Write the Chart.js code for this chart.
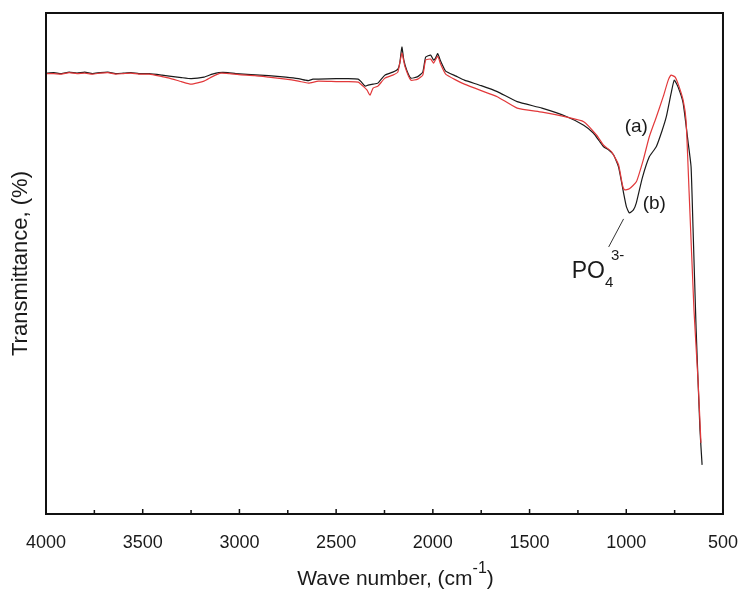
<!DOCTYPE html>
<html>
<head>
<meta charset="utf-8">
<title>FTIR spectra</title>
<script src="https://cdn.jsdelivr.net/npm/chart.js@4.4.1/dist/chart.umd.min.js"></script>
<style>
    html, body { margin: 0; padding: 0; background: #fff; }
    #wrap { width: 748px; height: 589px; }
</style>
</head>
<body>
<div id="wrap"><canvas id="ftir" width="748" height="589"></canvas></div>
<script>
// Wave numbers (cm-1) and transmittance (%)
// (b) black curve
const wnB = [4000, 3960, 3920, 3880, 3840, 3800, 3760, 3720, 3680, 3640, 3600, 3560, 3520, 3466,
    3400, 3363, 3300, 3250, 3183, 3140, 3106, 3060, 3019, 2940, 2849, 2760, 2695, 2660, 2643, 2620,
    2592, 2500, 2440, 2386, 2371, 2350, 2335, 2309, 2284, 2248, 2207, 2181, 2171, 2160, 2150, 2135,
    2114, 2078, 2052, 2037, 2011, 1996, 1986, 1975, 1960, 1934, 1880, 1837, 1750, 1667, 1564, 1436,
    1307, 1220, 1169, 1140, 1117, 1092, 1066, 1040, 1014, 999, 984, 963, 948, 917, 881, 845, 815,
    793, 768, 752, 732, 706, 680, 665, 655, 639, 619, 608];
const tB = [88.0, 88.1, 87.9, 88.2, 88.0, 88.2, 87.9, 88.1, 88.2, 87.9, 88.0, 88.1, 87.9, 87.9,
    87.6, 87.4, 87.1, 86.9, 87.2, 87.8, 88.1, 88.1, 87.9, 87.7, 87.5, 87.2, 86.9, 86.6, 86.5, 86.8,
    86.8, 86.9, 86.9, 86.8, 86.3, 85.4, 85.6, 85.8, 86.0, 87.6, 88.2, 88.8, 90.0, 93.2, 90.6, 88.6,
    87.0, 87.3, 88.2, 91.2, 91.6, 90.6, 91.0, 91.9, 90.4, 88.4, 87.4, 86.6, 85.5, 84.3, 82.3, 81.0,
    79.3, 77.6, 76.0, 74.5, 73.3, 72.7, 71.7, 69.3, 64.1, 61.3, 60.1, 60.7, 62.1, 67.1, 71.3, 73.3, 76.5,
    79.3, 84.0, 86.6, 85.2, 82.0, 74.1, 69.3, 57.3, 37.0, 16.8, 9.8];

// (a) red curve
const wnA = [4000, 3960, 3920, 3880, 3840, 3800, 3760, 3720, 3680, 3640, 3600, 3560, 3520, 3466,
    3400, 3363, 3300, 3250, 3183, 3140, 3096, 3050, 3003, 2920, 2849, 2760, 2695, 2643, 2592, 2500,
    2440, 2386, 2361, 2340, 2325, 2309, 2284, 2248, 2207, 2181, 2160, 2145, 2114, 2078, 2052, 2037,
    2011, 1996, 1975, 1960, 1934, 1880, 1837, 1750, 1667, 1564, 1436, 1307, 1220, 1153, 1117, 1076,
    1040, 1020, 1009, 984, 948, 912, 881, 845, 809, 783, 768, 747, 727, 706, 691, 675, 650, 629, 614];
const tA = [87.9, 87.9, 87.8, 88.1, 87.9, 88.0, 87.8, 88.0, 88.1, 87.8, 87.9, 88.0, 87.8, 87.8,
    87.3, 87.0, 86.3, 85.8, 86.4, 87.3, 88.0, 87.9, 87.7, 87.5, 87.2, 86.8, 86.4, 86.0, 86.4, 86.3,
    86.3, 86.2, 85.4, 84.6, 83.6, 85.0, 85.4, 87.0, 87.6, 88.2, 92.0, 89.4, 86.6, 86.8, 87.6, 90.6,
    90.8, 90.0, 91.4, 89.8, 87.8, 86.6, 85.8, 84.5, 83.3, 81.0, 80.2, 79.2, 78.3, 75.6, 73.6, 72.3,
    69.7, 65.7, 64.7, 64.9, 66.3, 70.7, 75.3, 79.2, 83.3, 86.6, 87.6, 87.2, 85.3, 82.6, 78.6, 64.1, 40.7, 26.7, 14.2];

const xTicks = [4000, 3500, 3000, 2500, 2000, 1500, 1000, 500];

const FONT = 'Arial, "Liberation Sans", sans-serif';

function toPoints(xs, ys) {
    return xs.map((x, i) => ({ x: x, y: ys[i] }));
}

// draws text made of pieces with their own size and vertical shift
function drawRich(ctx, parts, x, y) {
    parts.forEach(p => {
        ctx.font = p.size + 'px ' + FONT;
        ctx.fillText(p.text, x + (p.dx || 0), y + (p.dy || 0));
        if (!p.noAdvance) x += ctx.measureText(p.text).width + (p.dx || 0);
    });
}

function richWidth(ctx, parts) {
    let w = 0;
    parts.forEach(p => {
        ctx.font = p.size + 'px ' + FONT;
        if (!p.noAdvance) w += ctx.measureText(p.text).width + (p.dx || 0);
    });
    return w;
}

const framePlugin = {
    id: 'frame',
    afterDraw(chart) {
        const { ctx, chartArea: a, scales: { x, y } } = chart;
        ctx.save();

        // box round the plot
        ctx.strokeStyle = '#111';
        ctx.lineWidth = 2;
        ctx.strokeRect(a.left, a.top, a.right - a.left, a.bottom - a.top);

        // inward ticks on the bottom axis, minor ones half way
        ctx.lineWidth = 1.5;
        xTicks.forEach((v, i) => {
            const px = x.getPixelForValue(v);
            ctx.beginPath();
            ctx.moveTo(px, a.bottom);
            ctx.lineTo(px, a.bottom - 5);
            ctx.stroke();
            if (i < xTicks.length - 1) {
                const mx = x.getPixelForValue((v + xTicks[i + 1]) / 2);
                ctx.beginPath();
                ctx.moveTo(mx, a.bottom);
                ctx.lineTo(mx, a.bottom - 4);
                ctx.stroke();
            }
        });

        ctx.fillStyle = '#1a1a1a';
        ctx.textAlign = 'left';
        ctx.textBaseline = 'alphabetic';

        // x axis title with superscript
        const title = [
            { text: 'Wave number, (cm', size: 21 },
            { text: '-1', size: 16, dy: -12 },
            { text: ')', size: 21 }
        ];
        const tw = richWidth(ctx, title);
        drawRich(ctx, title, (a.left + a.right) / 2 + 11 - tw / 2, 585);

        // curve labels
        ctx.textAlign = 'center';
        ctx.font = '19px ' + FONT;
        ctx.fillText('(a)', x.getPixelForValue(948), y.getPixelForValue(76.3));
        ctx.fillText('(b)', x.getPixelForValue(855), y.getPixelForValue(60.8));

        // PO4 3- band with its leader line
        ctx.strokeStyle = '#333';
        ctx.lineWidth = 1;
        ctx.beginPath();
        ctx.moveTo(x.getPixelForValue(1014), y.getPixelForValue(58.9));
        ctx.lineTo(x.getPixelForValue(1091), y.getPixelForValue(53.3));
        ctx.stroke();

        ctx.textAlign = 'left';
        drawRich(ctx, [
            { text: 'PO', size: 23 },
            { text: '4', size: 15, dy: 9, noAdvance: true },
            { text: '3-', size: 15, dy: -18, dx: 6 }
        ], x.getPixelForValue(1282), y.getPixelForValue(47.1));

        ctx.restore();
    }
};

new Chart(document.getElementById('ftir').getContext('2d'), {
    type: 'line',
    data: {
        datasets: [{
            label: '(a)',
            data: toPoints(wnA, tA),
            borderColor: '#e2383a',
            borderWidth: 1.2,
            pointRadius: 0,
            tension: 0.15,
            fill: false,
            order: 0
        }, {
            label: '(b)',
            data: toPoints(wnB, tB),
            borderColor: '#1a1a1a',
            borderWidth: 1.2,
            pointRadius: 0,
            tension: 0.15,
            fill: false,
            order: 1
        }]
    },
    options: {
        responsive: false,
        animation: false,
        events: [],
        layout: { padding: { top: 13, right: 21, left: 0, bottom: 0 } },
        plugins: {
            legend: { display: false },
            tooltip: { enabled: false }
        },
        scales: {
            x: {
                type: 'linear',
                reverse: true,
                min: 500,
                max: 4000,
                grid: { display: false },
                border: { display: false },
                afterBuildTicks: scale => { scale.ticks = xTicks.map(v => ({ value: v })); },
                afterFit: scale => { scale.height = 75; },
                ticks: {
                    color: '#1a1a1a',
                    padding: 10,
                    maxRotation: 0,
                    font: { family: FONT, size: 18 },
                    callback: value => String(value)
                }
            },
            y: {
                min: 0,
                max: 100,
                grid: { display: false },
                border: { display: false },
                ticks: { display: false },
                afterFit: scale => { scale.width = 46; },
                title: {
                    display: true,
                    text: 'Transmittance, (%)',
                    color: '#1a1a1a',
                    font: { family: FONT, size: 22 },
                    padding: { top: 8, bottom: 0 }
                }
            }
        }
    },
    plugins: [framePlugin]
});
</script>
</body>
</html>
